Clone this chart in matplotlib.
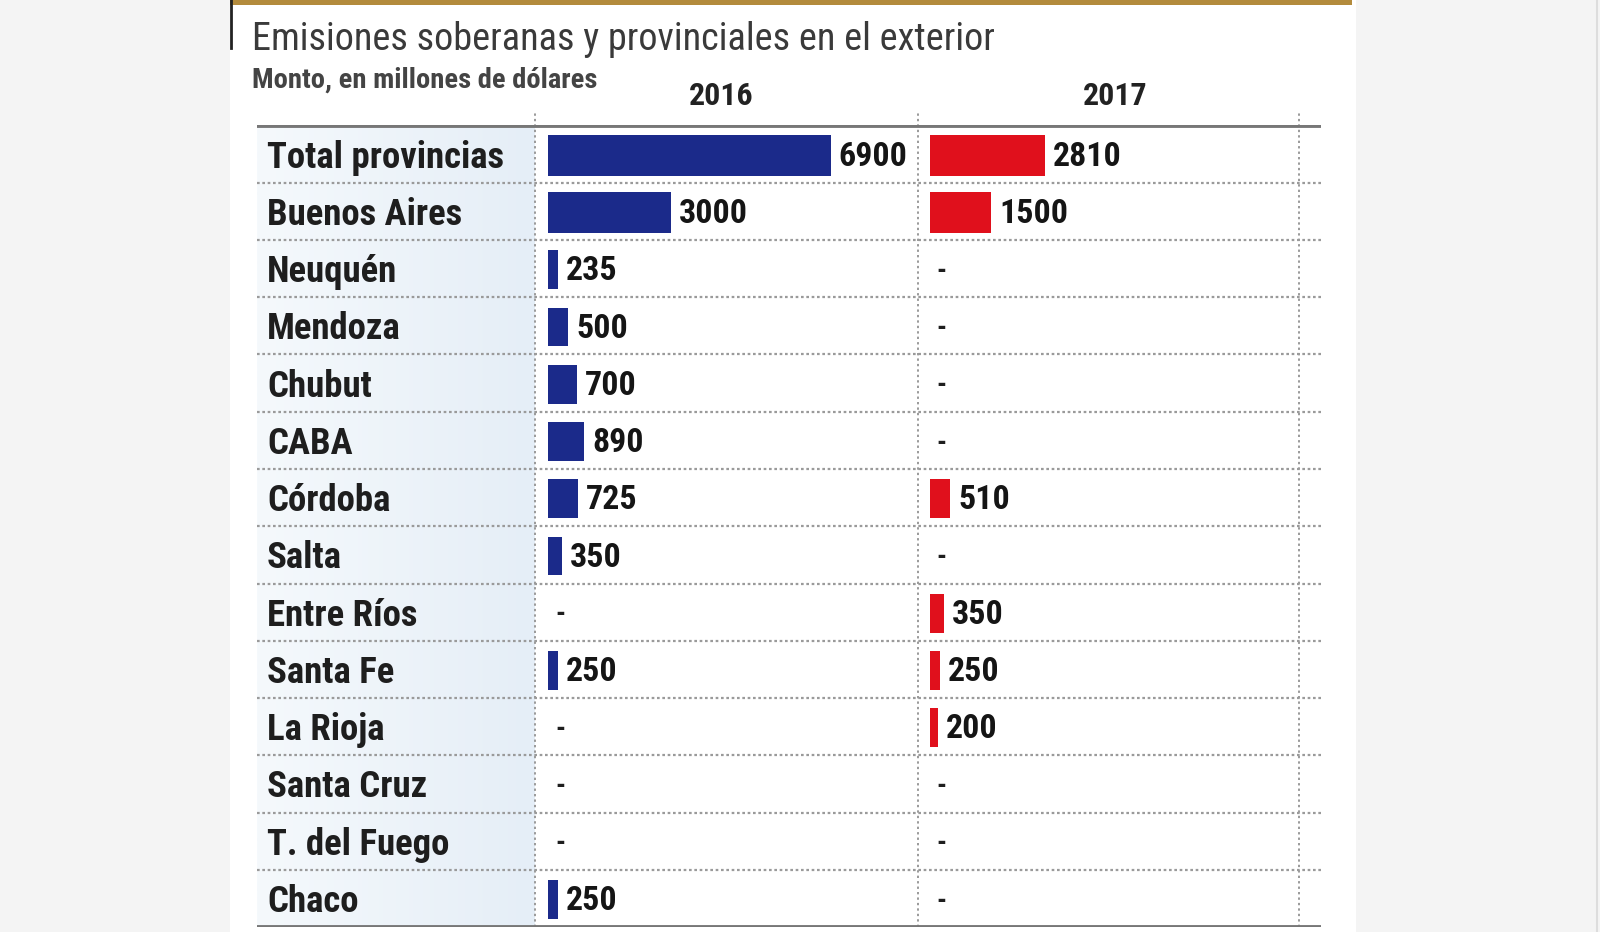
import numpy as np
import matplotlib
matplotlib.use("Agg")
import matplotlib.pyplot as plt
from matplotlib.patches import Rectangle
from matplotlib.lines import Line2D

# data
provincias = ["Total provincias", "Buenos Aires", "Neuquén", "Mendoza", "Chubut",
              "CABA", "Córdoba", "Salta", "Entre Ríos", "Santa Fe", "La Rioja",
              "Santa Cruz", "T. del Fuego", "Chaco"]
monto_2016 = [6900, 3000, 235, 500, 700, 890, 725, 350, None, 250, None, None, None, 250]
monto_2017 = [2810, 1500, None, None, None, None, 510, None, 350, 250, 200, None, None, None]
anios = ["2016", "2017"]

titulo = "Emisiones soberanas y provinciales en el exterior"
subtitulo = "Monto, en millones de dólares"

W, H = 1600, 932
FONT = ["Liberation Sans Narrow", "Roboto Condensed", "Roboto", "DejaVu Sans"]
plt.rcParams["font.family"] = FONT
plt.rcParams["font.stretch"] = "condensed"

azul = "#1b2a8a"
rojo = "#e0101c"
gris_linea = "#9a9a9a"

fig = plt.figure(figsize=(W / 100, H / 100), dpi=100, facecolor="#f4f4f4")

def fx(px):
    return px / W

def fy(px):
    return 1 - px / H

# white panel + gold top bar + small left rule
fig.patches.append(Rectangle((fx(230), 0), fx(1356 - 230), 1, transform=fig.transFigure,
                             facecolor="white", edgecolor="none", zorder=-5))
fig.patches.append(Rectangle((fx(230), fy(5)), fx(1352 - 230), 5 / H, transform=fig.transFigure,
                             facecolor="#b38b3c", edgecolor="none", zorder=-4))
fig.lines.append(Line2D([fx(231), fx(231)], [fy(0), fy(48)], transform=fig.transFigure,
                        color="#222222", lw=2))
fig.lines.append(Line2D([fx(1597), fx(1597)], [0, 1], transform=fig.transFigure,
                        color="#dddddd", lw=1.5))

fig.text(fx(252), fy(40), titulo, fontsize=27.5, color="#3a3a3a", va="center", ha="left")
fig.text(fx(252), fy(80), subtitulo, fontsize=20.5, color="#444444", fontweight="bold",
         va="center", ha="left")

# table frame
left_px, right_px = 257, 1321
top_px, bot_px = 125.5, 927
col_px = [535, 918, 1299]
header_px = [721, 1115]
n = len(provincias)

bg = fig.add_axes([fx(left_px), fy(bot_px), fx(right_px - left_px), (bot_px - top_px) / H])
bg.set_xlim(left_px, right_px)
bg.set_ylim(n, 0)
bg.axis("off")

# light blue label column
grad = np.linspace(0, 1, 100).reshape(1, -1)
bg.imshow(grad, extent=[left_px, col_px[0], n, 0], aspect="auto",
          cmap=matplotlib.colors.LinearSegmentedColormap.from_list("c", ["#f5f9fc", "#e5eef7"]),
          zorder=0)

for i in range(1, n):
    bg.axhline(i, color=gris_linea, lw=1.6, ls=(0, (1.2, 1.2)), zorder=1)
bg.axhline(0, color="#777777", lw=3.5, zorder=3)
bg.axhline(n, color="#777777", lw=3.5, zorder=3)
for c in col_px:
    bg.plot([c, c], [n, -0.25], color=gris_linea, lw=1.4, ls=(0, (1.2, 1.6)),
            clip_on=False, zorder=2)

for i, p in enumerate(provincias):
    bg.text(267, i + 0.56, p, fontsize=26.5, fontweight="bold", color="#1e1e1e",
            va="center", ha="left", zorder=4)

# bars
px_por_unidad = 282.6 / 6900
inicio_px = [548, 929.6]
series = [monto_2016, monto_2017]
colores = [azul, rojo]
y = np.arange(n) + 0.52

for k in range(2):
    x0 = col_px[k]
    x1 = col_px[k + 1]
    ax = fig.add_axes([fx(x0), fy(bot_px), fx(x1 - x0), (bot_px - top_px) / H])
    ax.patch.set_alpha(0)
    ax.set_xlim(-(inicio_px[k] - x0) / px_por_unidad, (x1 - inicio_px[k]) / px_por_unidad)
    ax.set_ylim(n, 0)
    ax.axis("off")
    vals = series[k]
    for yi, v in zip(y, vals):
        if v is None:
            ax.text(12 / px_por_unidad, yi + 0.03, "-", fontsize=20, fontweight="bold",
                    color="#1e1e1e", va="center", ha="center")
            continue
        h = 0.72 if yi < 2 else 0.68
        ax.barh(yi, v, height=h, color=colores[k], edgecolor="none")
        ax.text(v + 8 / px_por_unidad, yi + 0.03, str(v), fontsize=24.5, fontweight="bold",
                color="#151515", va="center", ha="left")
    fig.text(fx(header_px[k]), fy(96), anios[k], fontsize=23, fontweight="bold",
             color="#222222", va="center", ha="center")

fig.savefig("out.png", dpi=100, facecolor=fig.get_facecolor())
